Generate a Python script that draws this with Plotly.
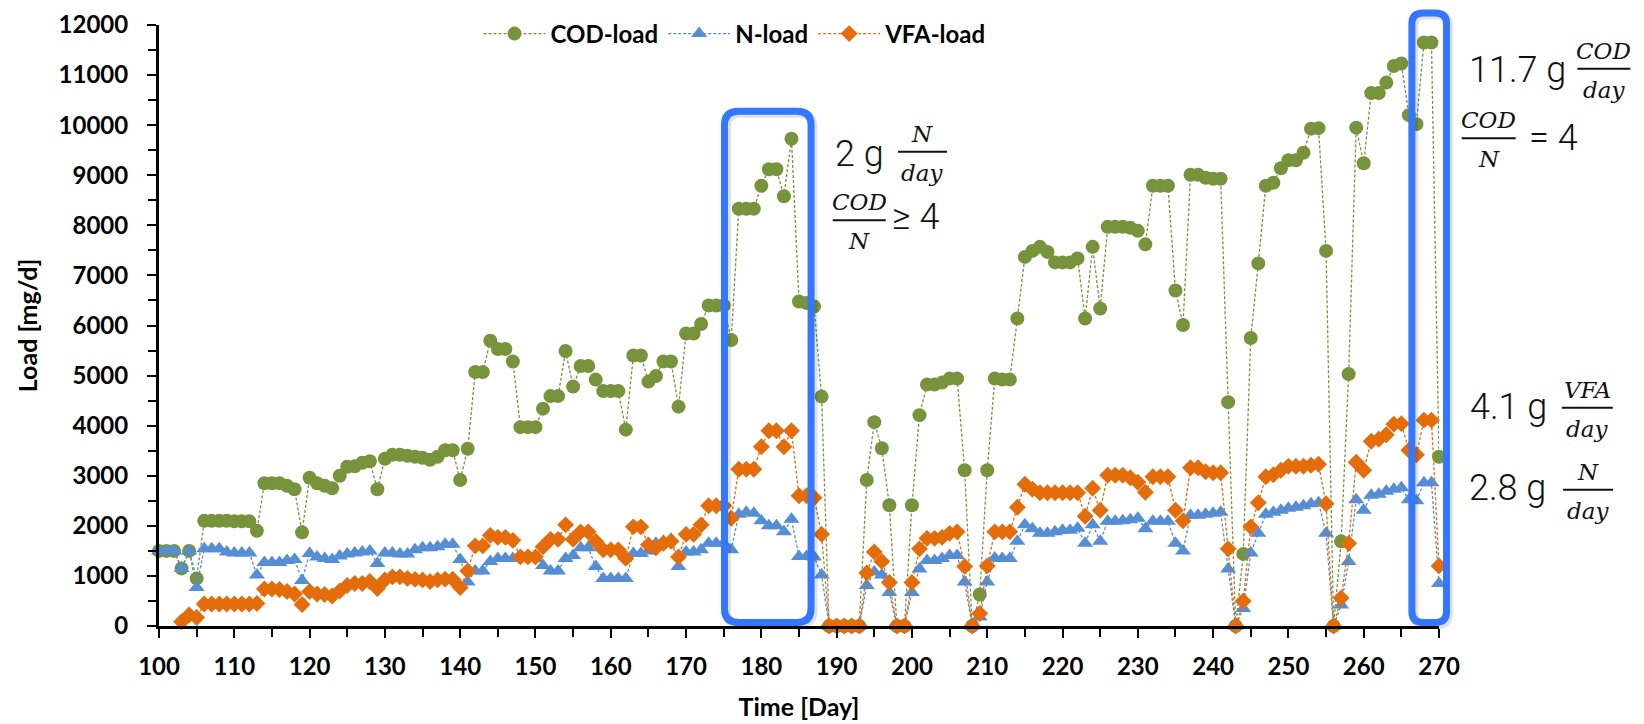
import plotly.graph_objects as go

# ---- data -------------------------------------------------------------
day = list(range(100, 271))

cod_load = [
    1500, 1500, 1500, 1150, 1500, 950, 2100, 2100, 2100, 2100,
    2090, 2090, 2090, 1900, 2850, 2850, 2850, 2800, 2730, 1870,
    2960, 2850, 2800, 2750, 3000, 3180, 3190, 3260, 3290, 2730,
    3340, 3420, 3420, 3400, 3380, 3360, 3320, 3380, 3510, 3510,
    2915, 3540, 5070, 5070, 5695, 5530, 5530, 5280, 3970, 3970,
    3970, 4340, 4590, 4590, 5490, 4780, 5190, 5190, 4920, 4690,
    4690, 4690, 3920, 5400, 5400, 4880, 4990, 5280, 5280, 4380,
    5840, 5840, 6030, 6400, 6400, 6400, 5710, 8330, 8330, 8330,
    8790, 9120, 9120, 8580, 9730, 6480, 6450, 6380, 4580, 0,
    0, 0, 0, 0, 2915, 4070, 3550, 2410, 0, 0,
    2410, 4210, 4820, 4820, 4860, 4940, 4940, 3110, 0, 630,
    3110, 4940, 4920, 4920, 6140, 7370, 7490, 7570, 7470, 7260,
    7260, 7260, 7340, 6140, 7570, 6340, 7970, 7970, 7970, 7950,
    7890, 7620, 8790, 8790, 8790, 6700, 6010, 9010, 9010, 8950,
    8930, 8930, 4470, 0, 1440, 5750, 7240, 8790, 8850, 9140,
    9300, 9300, 9450, 9930, 9940, 7490, 0, 1690, 5030, 9950,
    9240, 10640, 10640, 10850, 11180, 11230, 10200, 10020, 11650, 11650,
    3380,
]

n_load = [
    1500, 1500, 1500, 1150, 1500, 770, 1540, 1540, 1540, 1480,
    1460, 1460, 1460, 1020, 1270, 1270, 1270, 1310, 1330, 910,
    1450, 1380, 1350, 1330, 1400, 1440, 1460, 1480, 1500, 1250,
    1460, 1460, 1440, 1440, 1520, 1560, 1560, 1580, 1630, 1630,
    1330, 880, 1100, 1100, 1290, 1350, 1350, 1350, 1350, 1350,
    1350, 1210, 1100, 1100, 1350, 1410, 1560, 1560, 1190, 950,
    950, 950, 950, 1450, 1450, 1500, 1650, 1690, 1730, 1190,
    1480, 1480, 1520, 1650, 1650, 1650, 1520, 2230, 2270, 2250,
    2100, 2000, 2000, 1880, 2130, 1390, 1390, 1380, 1020, 0,
    0, 0, 0, 0, 810, 1080, 1020, 670, 0, 0,
    670, 1140, 1310, 1310, 1350, 1410, 1410, 880, 0, 180,
    880, 1360, 1350, 1350, 1690, 2020, 1940, 1850, 1850, 1880,
    1910, 1910, 1950, 1650, 2020, 1690, 2090, 2090, 2100, 2120,
    2150, 1940, 2090, 2090, 2090, 1650, 1500, 2210, 2210, 2230,
    2250, 2270, 1140, 0, 350, 1460, 1850, 2230, 2270, 2310,
    2350, 2370, 2400, 2440, 2460, 1850, 0, 420, 1290, 2520,
    2310, 2610, 2630, 2690, 2730, 2760, 2520, 2500, 2860, 2860,
    850,
]

vfa_load = [
    None, None, None, 85, 220, 170, 440, 440, 440, 440,
    440, 440, 440, 450, 740, 740, 730, 690, 640, 430,
    690, 640, 630, 600, 700, 810, 850, 850, 890, 750,
    920, 980, 980, 950, 930, 920, 890, 920, 935, 935,
    770, 1100, 1600, 1600, 1810, 1770, 1770, 1710, 1380, 1380,
    1380, 1580, 1730, 1730, 2020, 1730, 1880, 1880, 1690, 1520,
    1520, 1520, 1350, 1980, 1980, 1620, 1560, 1650, 1690, 1380,
    1830, 1830, 2020, 2400, 2400, 2400, 2150, 3130, 3130, 3130,
    3580, 3900, 3900, 3580, 3900, 2600, 2600, 2560, 1830, 0,
    0, 0, 0, 0, 1060, 1480, 1290, 870, 0, 0,
    870, 1540, 1750, 1750, 1770, 1850, 1880, 1190, 0, 250,
    1200, 1880, 1880, 1880, 2370, 2830, 2730, 2660, 2660, 2660,
    2660, 2660, 2660, 2190, 2750, 2310, 3010, 3010, 3010, 2960,
    2870, 2670, 2980, 2980, 2980, 2310, 2100, 3160, 3160, 3080,
    3060, 3060, 1540, 0, 500, 1980, 2460, 2980, 3020, 3110,
    3190, 3190, 3190, 3210, 3230, 2440, 0, 560, 1650, 3270,
    3110, 3690, 3730, 3820, 4030, 4040, 3510, 3420, 4110, 4110,
    1200,
]

# ---- layout constants ---------------------------------------------------
W, H = 1644, 724
M_L, M_T = 159, 21
PLOT_W, PLOT_H = 1280, 605
X_RANGE = (100, 270)
Y_RANGE = (0, 12000)

AXIS_FONT = "Lato"
BIG_FONT = "Roboto"
MATH_FONT = "DejaVu Serif"
BOX_BLUE = "#3377FF"


def px(d):
    """day -> paper x"""
    return (d - X_RANGE[0]) / (X_RANGE[1] - X_RANGE[0])


def py(v):
    """load -> paper y"""
    return (v - Y_RANGE[0]) / (Y_RANGE[1] - Y_RANGE[0])


fig = go.Figure()

series = [
    ("COD-load", cod_load, "#77933C", "circle", 14),
    ("N-load", n_load, "#558ED5", "triangle-up", 14),
    ("VFA-load", vfa_load, "#E46C0A", "diamond", 13),
]
for name, vals, col, sym, size in series:
    fig.add_trace(go.Scatter(
        x=day, y=vals, name=name, mode="lines+markers",
        line=dict(color=col, width=1.3, dash="3px,2px"),
        marker=dict(color=col, symbol=sym, size=size, line=dict(width=0)),
        cliponaxis=False, connectgaps=False,
    ))

# ---- highlight boxes (rounded rectangles) -------------------------------
boxes = [
    dict(d0=175.1, d1=186.6, v0=70, v1=10280, r=14),
    dict(d0=266.4, d1=271.0, v0=70, v1=12240, r=11),
]
shapes = []
for b in boxes:
    x0, x1, y0, y1 = px(b["d0"]), px(b["d1"]), py(b["v0"]), py(b["v1"])
    rx, ry = b["r"] / PLOT_W, b["r"] / PLOT_H

    def rpath(dx, dy):
        a0, a1, b0, b1 = x0 + dx, x1 + dx, y0 + dy, y1 + dy
        return (f"M {a0+rx},{b0} L {a1-rx},{b0} Q {a1},{b0} {a1},{b0+ry} "
                f"L {a1},{b1-ry} Q {a1},{b1} {a1-rx},{b1} "
                f"L {a0+rx},{b1} Q {a0},{b1} {a0},{b1-ry} "
                f"L {a0},{b0+ry} Q {a0},{b0} {a0+rx},{b0} Z")

    # soft drop shadow then the blue outline
    shapes.append(dict(type="path", xref="paper", yref="paper",
                       path=rpath(2 / PLOT_W, -2 / PLOT_H),
                       line=dict(color="rgba(0,0,0,0.12)", width=9)))
    shapes.append(dict(type="path", xref="paper", yref="paper",
                       path=rpath(0, 0), line=dict(color=BOX_BLUE, width=7)))

annotations = []


def big_text(d, v, text):
    annotations.append(dict(
        xref="paper", yref="paper", x=px(d), y=py(v), text=text,
        xanchor="left", yanchor="middle", showarrow=False,
        font=dict(family=BIG_FONT, size=36, color="#111111", weight=300)))


def fraction(d, v, num, den, width=50):
    xc, yc = px(d), py(v)
    shapes.append(dict(type="line", xref="paper", yref="paper",
                       x0=xc - width / 2 / PLOT_W, x1=xc + width / 2 / PLOT_W,
                       y0=yc, y1=yc, line=dict(color="#111111", width=2)))
    for txt, shift in ((num, 18), (den, -21)):
        annotations.append(dict(
            xref="paper", yref="paper", x=xc, y=yc, yshift=shift, text=txt,
            xanchor="center", yanchor="middle", showarrow=False,
            font=dict(family=MATH_FONT, size=23, color="#111111",
                      style="italic")))


# loading stage 1
fraction(201.4, 9470, "N", "day", 49)
big_text(189.5, 9420, "2 g")
fraction(193.0, 8100, "COD", "N", 53)
big_text(197.1, 8170, "≥ 4")

# loading stage 2
big_text(273.7, 11100, "11.7 g")
fraction(291.9, 11128, "COD", "day", 53)
fraction(276.6, 9740, "COD", "N", 54)
big_text(281.7, 9740, "= 4")
big_text(273.9, 4380, "4.1 g")
fraction(289.7, 4360, "VFA", "day", 51)
big_text(273.7, 2760, "2.8 g")
fraction(289.8, 2720, "N", "day", 50)

axis_common = dict(
    showline=True, linecolor="black", linewidth=3,
    ticks="outside", ticklen=9, tickwidth=2, tickcolor="black",
    showgrid=False, zeroline=False, automargin=False, tickformat="d",
    tickfont=dict(family=AXIS_FONT, size=24, color="black", weight="bold"),
)

fig.update_layout(
    width=W, height=H,
    margin=dict(l=M_L, r=W - M_L - PLOT_W, t=M_T, b=H - M_T - PLOT_H),
    paper_bgcolor="white", plot_bgcolor="white",
    xaxis=dict(
        range=list(X_RANGE), dtick=10, tick0=100,
        minor=dict(dtick=5, ticks="outside", ticklen=8, tickwidth=2,
                   tickcolor="black"),
        title=dict(text="Time [Day]", standoff=20,
                   font=dict(family=AXIS_FONT, size=25, color="black",
                             weight="bold")),
        ticklabelstandoff=8,
        **axis_common,
    ),
    yaxis=dict(
        range=list(Y_RANGE), dtick=1000, tick0=0,
        minor=dict(dtick=500, ticks="outside", ticklen=8, tickwidth=2,
                   tickcolor="black"),
        title=dict(text="Load [mg/d]", standoff=14,
                   font=dict(family=AXIS_FONT, size=25, color="black",
                             weight="bold")),
        ticklabelstandoff=14,
        **axis_common,
    ),
    legend=dict(
        orientation="h", x=0.45, y=0.985, xanchor="center", yanchor="middle",
        font=dict(family=AXIS_FONT, size=24, color="black", weight="bold"),
        bgcolor="rgba(0,0,0,0)", itemwidth=62,
    ),
    shapes=shapes,
    annotations=annotations,
)

fig.write_html("out.html")
